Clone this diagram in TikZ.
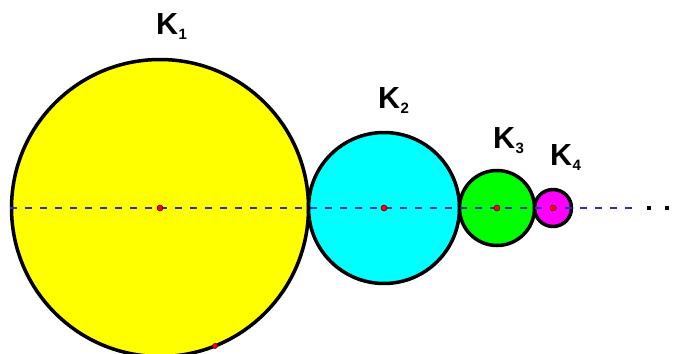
\documentclass[tikz,border=0pt]{standalone}
\usepackage{fontspec}
\setmainfont{Liberation Sans}
\definecolor{axisblue}{RGB}{45,45,185}
\definecolor{kyellow}{RGB}{255,255,0}
\definecolor{kcyan}{RGB}{0,255,255}
\definecolor{kgreen}{RGB}{0,255,0}
\definecolor{kmagenta}{RGB}{255,0,255}
\newcommand{\klabel}[1]{K\kern0.5pt\raisebox{-5pt}{\fontsize{15}{15}\selectfont #1}}
\begin{document}
\begin{tikzpicture}[x=1pt,y=-1pt,
  disk/.style={circle,draw=black,line width=3.5pt,inner sep=0pt},
  ctr/.style={circle,fill=red,draw=black!60!red,line width=0.6pt,inner sep=0pt,minimum size=6pt},
  lbl/.style={anchor=base west,inner sep=0pt,font=\fontsize{30.5}{30.5}\selectfont\bfseries},
  axis/.style={draw=axisblue,line width=1.1pt,dash pattern=on 7pt off 8pt},
  dotmark/.style={rectangle,fill=black,inner sep=0pt,minimum size=4.5pt}]
\useasboundingbox (0,0) rectangle (679,353);
\clip (0,0) rectangle (679,353);
% circles
\node[disk,fill=kyellow,minimum size=297pt] (K1) at (160,208) {};
\node[disk,fill=kcyan,minimum size=151pt] (K2) at (384,208) {};
\node[disk,fill=kgreen,minimum size=75pt] (K3) at (497,208) {};
\node[disk,fill=kmagenta,minimum size=37pt] (K4) at (553,208) {};
% axis
\coordinate (axend) at (633,208);
\draw[axis] (K1.west) -- (axend);
% centres and point
\node[ctr] (C1) at (K1.center) {};
\node[ctr] (C2) at (K2.center) {};
\node[ctr] (C3) at (K3.center) {};
\node[ctr] (C4) at (K4.center) {};
\node[ctr,minimum size=5pt] (P) at (215,346) {};
% dots
\node[dotmark] (d1) at (649,208) {};
\node[dotmark] (d2) at (667,208) {};
% labels
\node[lbl] (L1) at (156,35) {\klabel{1}};
\node[lbl] (L2) at (378,108) {\klabel{2}};
\node[lbl] (L3) at (493,148) {\klabel{3}};
\node[lbl] (L4) at (550,165) {\klabel{4}};
\end{tikzpicture}
\end{document}
